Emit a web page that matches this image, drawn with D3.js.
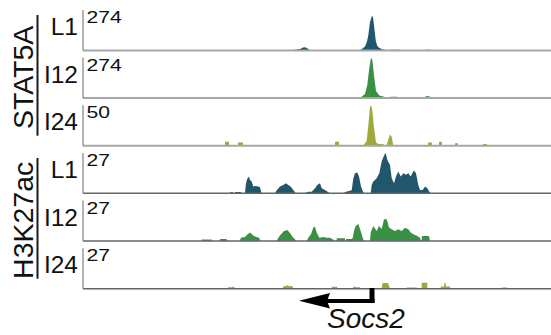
<!DOCTYPE html>
<html>
<head>
<meta charset="utf-8">
<script src="https://cdn.jsdelivr.net/npm/d3@7"></script>
<style>
  html, body { margin: 0; padding: 0; background: #fff; }
  text { font-family: "Liberation Sans", Arial, sans-serif; }
</style>
</head>
<body>
<svg id="tracks" width="551" height="335"></svg>
<script>
// genomic offset (kb from left edge of view) -> signal value
const stat5aL1 = [
  [20.4,0],[21.2,5],[21.7,10],[22.0,20],[22.2,22],[22.4,17],[22.6,5],[22.8,0],
  [27.4,0],[27.8,5],[28.2,27],[28.4,60],[28.53,103],[28.7,192],[28.9,235],[29.0,225],[29.1,171],
  [29.27,68],[29.4,35],[29.53,21],[29.87,10],[30.2,5],[30.4,0],
  [30.6,0],[30.7,5],[31.6,5],[31.7,0],
  [34.2,0],[34.3,5],[34.8,5],[34.9,0]
];
const stat5aI12 = [
  [15.3,0],[15.4,5],[15.5,0],
  [19.8,0],[19.9,5],[20.0,0],
  [20.5,0],[20.6,5],[20.9,5],[21.0,0],
  [21.5,0],[21.6,5],[22.2,5],[22.3,0],
  [24.6,0],[24.7,4],[24.8,0],
  [27.7,0],[28.2,27],[28.43,89],[28.63,205],[28.8,274],[28.93,260],[29.13,137],[29.3,48],
  [29.63,17],[30.03,10],[30.37,0],
  [30.7,0],[30.75,9],[31.4,9],[31.5,0],
  [34.1,0],[34.2,8],[34.4,14],[34.7,10],[34.8,0]
];
const stat5aI24 = [
  [11.3,0],[11.3,1],[12.2,1],[12.2,0],
  [14.2,0],[14.2,5],[14.6,5],[14.6,0],
  [15.5,0],[15.5,4],[16.0,4],[16.0,0],
  [21.6,0],[21.7,1],[21.8,0],
  [25.2,0],[25.2,5],[25.6,5],[25.6,0],
  [28.03,0],[28.37,6],[28.53,25],[28.7,47.5],[28.8,50],[28.93,44],[29.1,22.5],[29.3,4],
  [29.53,2],[30.03,2],[30.13,0],
  [30.37,1.2],[30.53,7.5],[30.7,14],[30.87,11],[30.97,4],[31.03,0],
  [34.5,0],[34.5,4],[34.9,4],[34.9,0],
  [35.6,0],[35.6,5],[35.9,5],[35.9,0],
  [37.2,0],[37.2,3],[37.5,3],[37.5,0],
  [40.0,0],[40.0,2],[40.4,2],[40.4,0]
];
const h3k27acL1 = [
  [14.7,0],[14.7,0.7],[15.0,0.7],[15.0,0],
  [15.2,0],[15.2,0.9],[15.8,0.9],[15.8,0],
  [16.2,0],[16.27,5.4],[16.4,9.5],[16.6,11.3],[16.7,9],[16.87,7.9],[17.03,4.5],[17.2,4.9],
  [17.53,4.5],[17.7,4],[17.85,0],
  [19.2,0],[19.37,2],[19.7,4.5],[20.03,5.6],[20.3,6.75],[20.53,5.6],[20.77,4.5],[21.03,2.2],[21.27,0],
  [22.2,0.3],[22.53,1.1],[22.87,1.1],[23.2,3.4],[23.43,5.6],[23.7,6.75],[23.87,3.4],[24.2,2.2],
  [24.53,0.7],[24.7,0],
  [26.1,0],[26.2,0.9],[26.5,1.4],[26.87,2],[27.03,10],[27.2,13.5],[27.43,14],[27.6,11.3],
  [27.8,4.5],[28.03,0.5],[28.2,0],
  [28.77,0],[28.87,5.6],[29.03,7.9],[29.37,10.1],[29.63,13.5],[29.87,21.4],[30.13,25.7],[30.27,27],
  [30.43,22.3],[30.7,18.9],[30.87,10.1],[31.1,6.75],[31.3,11.3],[31.53,14.6],[31.77,11.3],
  [32.03,13.5],[32.3,12.4],[32.53,13.5],[32.77,11.3],[33.03,14.6],[33.1,15.3],[33.3,13.5],
  [33.53,5.6],[33.7,2.2],[33.97,2.2],[34.2,4.5],[34.43,3.4],[34.63,1.1],[34.77,0]
];
const h3k27acI12 = [
  [11.87,0],[11.87,1],[12.87,1],[12.87,0],
  [13.7,0],[13.7,1.3],[14.37,1.3],[14.37,0],
  [14.5,0],[14.53,0.5],[14.6,0],
  [15.7,0],[15.77,2.2],[16.2,2.7],[16.47,4.5],[16.7,5.6],[16.87,4.7],[17.1,3.4],[17.37,2.7],
  [17.6,2.2],[17.77,0],
  [19.37,0],[19.53,2.2],[19.8,4.5],[20.1,6.75],[20.43,7.4],[20.7,5.4],[20.97,2.7],[21.2,1.1],[21.3,0],
  [22.37,0],[22.53,2.2],[22.8,4.5],[23.03,9],[23.2,9.5],[23.37,5.6],[23.63,2.2],[24.03,2.7],
  [24.37,2.2],[24.7,2.2],[24.97,1.1],[25.2,0],
  [25.37,0],[25.37,1.8],[26.2,1.8],[26.2,0],
  [26.3,0],[26.3,1.35],[26.87,1.35],[26.97,2],[27.1,6.75],[27.27,10.1],[27.53,11.3],[27.77,6.75],
  [27.97,2.2],[28.1,0],
  [28.7,0],[28.77,5.6],[29.03,10.1],[29.37,6.75],[29.6,10.1],[29.87,8.1],[30.1,14.6],[30.37,14.6],
  [30.6,9],[30.87,7.9],[31.2,6.75],[31.53,7.9],[31.87,6.75],[32.2,8.8],[32.53,7.9],[32.77,5.6],
  [33.03,4.5],[33.43,3.4],[33.7,2.2],[33.8,0],
  [33.85,0],[33.9,3.4],[34.6,3.4],[34.7,0]
];
const h3k27acI24 = [
  [14.5,0],[14.5,1],[14.9,1],[14.97,2],[15.0,1],[15.2,1],[15.2,0],
  [20.0,0],[20.0,1.5],[20.3,1.8],[20.4,2.2],[20.6,1.8],[21.0,1.5],[21.0,0],
  [24.87,0],[24.87,1.35],[25.43,1.35],[25.43,0],
  [27.0,0],[27.0,1],[27.2,1.4],[27.3,1],[27.7,1],[27.7,0],
  [29.87,0],[29.9,2.5],[30.0,3.8],[30.5,3.8],[30.6,2],[30.7,0],
  [32.37,0],[32.37,0.7],[33.37,0.7],[33.37,0],
  [33.87,0],[33.87,4],[34.43,4],[34.43,0],
  [35.77,0],[35.77,1.4],[36.1,1.4],[36.15,4],[36.25,4],[36.3,1.4],[36.7,1.4],[36.7,0],
  [41.87,0],[41.87,0.7],[42.43,0.7],[42.43,0]
];

const trackSignals = [stat5aL1, stat5aI12, stat5aI24, h3k27acL1, h3k27acI12, h3k27acI24];
const trackMax = [274, 274, 50, 27, 27, 27];
const trackLabels = ["L1", "I12", "I24", "L1", "I12", "I24"];
const groupLabels = ["STAT5A", "H3K27ac"];
const gene = {name: "Socs2", tss: 28.9, arrowTip: 21.6};
const viewSpan = 46.8;

const colours = ["#22566c", "#3a9146", "#9eaa3a"];

const svg = d3.select("#tracks");

const x = d3.scaleLinear().domain([0, viewSpan]).range([83, 551]);

const trackTop = i => 10 + i * 47.65;
const trackH = 40.4;

trackSignals.forEach((signal, i) => {
    const top = trackTop(i);
    const y = d3.scaleLinear().domain([0, trackMax[i]]).range([top + trackH, top]).clamp(true);
    const g = svg.append("g").attr("class", "track");

    const area = d3.area()
        .x(d => x(d[0]))
        .y0(y(0))
        .y1(d => y(d[1]));

    g.append("path")
        .datum(signal)
        .attr("d", area)
        .attr("fill", colours[i % 3]);

    // baseline
    g.append("line")
        .attr("x1", x(0)).attr("x2", x(viewSpan))
        .attr("y1", y(0)).attr("y2", y(0))
        .attr("stroke", i < 3 ? "#a6a6a6" : "#666")
        .attr("stroke-width", i < 3 ? 2 : 1.5);

    // left scale bar
    g.append("line")
        .attr("x1", x(0)).attr("x2", x(0))
        .attr("y1", y(trackMax[i])).attr("y2", y(0))
        .attr("stroke", "#808080")
        .attr("stroke-width", 1.2);

    g.append("text")
        .attr("transform", `translate(86.5,${top + 13}) scale(1.28,1)`)
        .attr("font-size", 16.5)
        .attr("fill", "#111")
        .text(trackMax[i]);

    g.append("text")
        .attr("x", 78)
        .attr("y", top + 25)
        .attr("text-anchor", "end")
        .attr("font-size", 24.5)
        .attr("fill", "#111")
        .text(trackLabels[i]);
});

// group labels with bar
groupLabels.forEach((name, k) => {
    const top = trackTop(k * 3), bottom = trackTop(k * 3 + 2) + trackH;
    const mid = (top + bottom) / 2;
    svg.append("line")
        .attr("x1", 37.5).attr("x2", 37.5)
        .attr("y1", top + 5).attr("y2", bottom - 10)
        .attr("stroke", "#1a1a1a")
        .attr("stroke-width", 2);
    svg.append("text")
        .attr("transform", `translate(33,${mid - 0.5}) rotate(-90)`)
        .attr("text-anchor", "middle")
        .attr("font-size", 28.5)
        .attr("fill", "#111")
        .text(name);
});

// gene arrow (minus strand)
const tssX = x(gene.tss), tipX = x(gene.arrowTip);
const ga = svg.append("g").attr("class", "gene");
ga.append("rect")
    .attr("x", tssX - 2.5).attr("y", 288)
    .attr("width", 5).attr("height", 15)
    .attr("fill", "#000");
ga.append("rect")
    .attr("x", tipX + 28).attr("y", 299)
    .attr("width", tssX + 2.5 - (tipX + 28)).attr("height", 4)
    .attr("fill", "#000");
ga.append("path")
    .attr("d", d3.line()([[tipX, 300.8], [tipX + 31, 293], [tipX + 28, 301], [tipX + 31, 308.5]]) + "Z")
    .attr("fill", "#000");
ga.append("text")
    .attr("x", tipX + 28)
    .attr("y", 328)
    .attr("font-size", 28)
    .attr("font-style", "italic")
    .attr("fill", "#111")
    .text(gene.name);
</script>
</body>
</html>
